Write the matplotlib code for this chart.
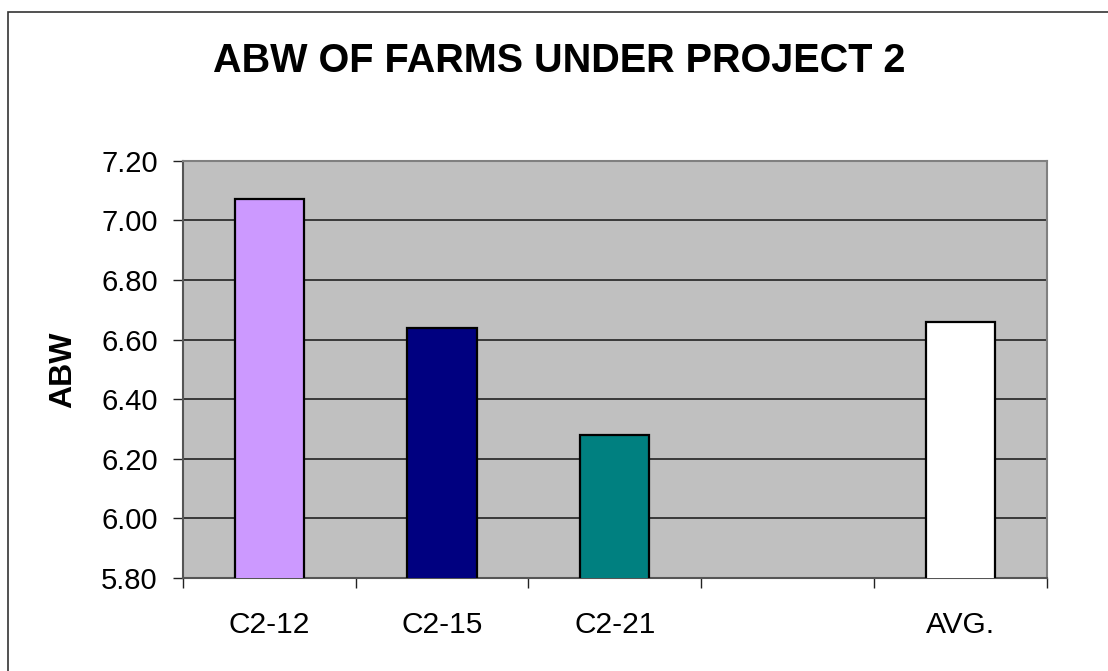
import matplotlib
matplotlib.use('Agg')
import matplotlib.pyplot as plt
from matplotlib.patches import Rectangle

plt.rcParams['font.family'] = ['Liberation Sans', 'DejaVu Sans']

categories = ['C2-12', 'C2-15', 'C2-21', '', 'AVG.']
abw = [7.07, 6.64, 6.28, None, 6.66]
bar_colors = ['#CC99FF', '#000080', '#008080', None, '#FFFFFF']
yticks = [5.80, 6.00, 6.20, 6.40, 6.60, 6.80, 7.00, 7.20]

fig = plt.figure(figsize=(11.08, 6.71), dpi=100)
ax = fig.add_axes([0.1649, 0.1386, 0.945 - 0.1649, 0.7605 - 0.1386])
ax.set_facecolor('#C0C0C0')

# outer chart frame (cut off at right and bottom like the source)
fig.patches.append(Rectangle((8 / 1108, -0.1), 1.2, 1.1 - 12 / 671,
                             transform=fig.transFigure, fill=False,
                             edgecolor='#333333', linewidth=1.2))

ax.set_ylim(5.8, 7.2)
ax.set_xlim(0.5, len(categories) + 0.5)
ax.set_yticks(yticks)
ax.set_yticklabels(['%.2f' % t for t in yticks], fontsize=21)
ax.grid(axis='y', color='#222222', linewidth=1.2)
ax.set_axisbelow(True)

for i, (v, c) in enumerate(zip(abw, bar_colors)):
    if v is None:
        continue
    ax.bar(i + 1, v, width=0.4, color=c, edgecolor='black', linewidth=1.6, zorder=3)

# ticks at the category boundaries, labels in the middle
ax.set_xticks([i + 0.5 for i in range(len(categories) + 1)])
ax.set_xticklabels([])
ax.set_xticks(range(1, len(categories) + 1), minor=True)
ax.set_xticklabels(categories, minor=True, fontsize=21.5)
ax.tick_params(axis='x', which='minor', length=0, pad=23.5)
ax.tick_params(axis='x', which='major', length=7, width=1, color='#222222')
ax.tick_params(axis='y', length=7, width=1, color='#222222', pad=11)

for side in ['top', 'right']:
    ax.spines[side].set_color('#808080')
    ax.spines[side].set_linewidth(1.5)
for side in ['left', 'bottom']:
    ax.spines[side].set_color('#555555')
    ax.spines[side].set_linewidth(1.5)

ax.set_ylabel('ABW', fontsize=23, fontweight='bold')
ax.yaxis.set_label_coords(-0.121, 0.5)

fig.text(0.505, 1 - 61 / 671, 'ABW OF FARMS UNDER PROJECT 2', ha='center', va='center',
         fontsize=28.5, fontweight='bold')

fig.savefig('out.png', dpi=100)
